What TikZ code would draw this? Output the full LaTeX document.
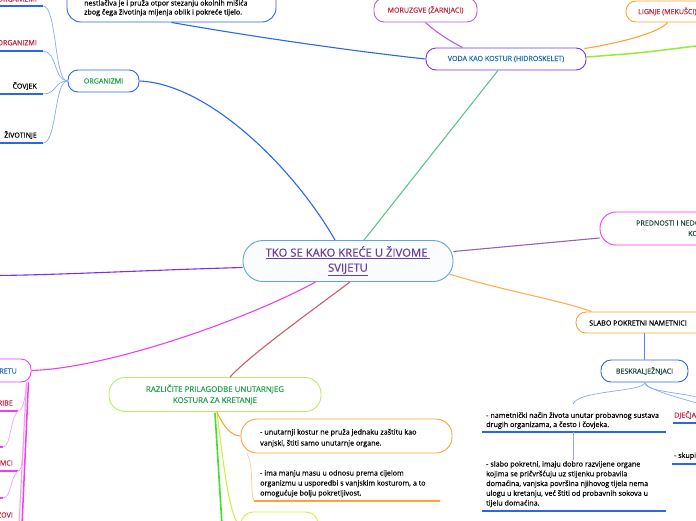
\documentclass[tikz,border=0pt]{standalone}
\usepackage{fontspec}
\setmainfont{Open Sans}[FakeBold=0.4]
\usetikzlibrary{calc}
\definecolor{crim}{HTML}{C8203C}
\definecolor{grn}{HTML}{1FA54E}
\definecolor{dgrn}{HTML}{1E4B3C}
\definecolor{tblue}{HTML}{1F6FB2}
\definecolor{cpurp}{HTML}{6A3C9E}
\definecolor{bblue}{HTML}{2A66EA}
\definecolor{lblue}{HTML}{86AAF6}
\definecolor{cbord}{HTML}{5CA6DC}
\definecolor{orng}{HTML}{FFA234}
\definecolor{lorng}{HTML}{FFC98A}
\definecolor{mag}{HTML}{F23CF2}
\definecolor{lmag}{HTML}{F7A0F7}
\definecolor{vio}{HTML}{7B2FF0}
\definecolor{lvio}{HTML}{B85CF2}
\definecolor{lgrn}{HTML}{B4F064}
\definecolor{bgrn}{HTML}{44E024}
\definecolor{ygrn}{HTML}{D4F03C}
\definecolor{tealc}{HTML}{5CC48C}
\definecolor{redl}{HTML}{D45868}
\definecolor{plum}{HTML}{9462B2}
\definecolor{vgrn}{HTML}{94EC34}
\tikzset{
  box/.style={draw, rounded corners=10pt, fill=white, inner sep=0pt, line width=0.9pt},
  con/.style={line width=1.1pt},
  thincon/.style={line width=0.7pt},
  uline/.style={line width=1.4pt},
  capt/.style={font=\fontsize{7.1}{9}\selectfont, inner sep=0pt},
  small/.style={inner sep=0pt, align=left},
}
\begin{document}
\begin{tikzpicture}[x=1pt,y=-1pt]
\useasboundingbox (0,0) rectangle (696,520);
\clip (0,0) rectangle (696,520);

% ---------- boxes ----------
\node[box, draw=bblue, minimum width=209pt, minimum height=52pt, rounded corners=14pt] (topbox) at (171.5,-4) {};
\node[box, draw=lvio, minimum width=103pt, minimum height=24pt, capt, text=crim] (moruzgve) at (425.5,10) {MORUZGVE (ŽARNJACI)};
\node[box, draw=orng, minimum width=114pt, minimum height=21pt] (lignje) at (683,11.5) {};
\node[box, draw=vio, minimum width=160pt, minimum height=22pt, capt, text=tblue] (voda) at (506,59) {VODA KAO KOSTUR (HIDROSKELET)};
\node[box, draw=bblue, minimum width=71pt, minimum height=22pt, capt, text=grn] (organizmi) at (103.5,81) {ORGANIZMI};
\node[box, draw=cbord, fill=cbord!3, minimum width=210pt, minimum height=41pt, rounded corners=20pt,
      font=\fontsize{11.3}{15}\selectfont, text=cpurp, align=center] (central) at (348,261)
      {\underline{TKO SE KAKO KREĆE U ŽIVOME }\\\underline{SVIJETU}};
\node[box, draw=mag, minimum width=202pt, minimum height=33pt, rounded corners=16pt] (prednosti) at (701,228.5) {};
\node[box, draw=orng, minimum width=144pt, minimum height=21pt] (slabo) at (648,322.5) {};
\node[box, draw=bblue, minimum width=87pt, minimum height=22pt, capt, text=dgrn] (beskr) at (644.5,371) {BESKRALJEŽNJACI};
\node[box, draw=mag, minimum width=91pt, minimum height=23pt] (retu) at (-14.5,370.5) {};
\node[box, draw=lgrn, minimum width=212pt, minimum height=34pt, rounded corners=16pt,
      font=\fontsize{7.9}{11}\selectfont, text=grn, align=center] (razlicite) at (215,394.5)
      {RAZLIČITE PRILAGODBE UNUTARNJEG\\KOSTURA ZA KRETANJE};
\node[box, draw=orng, minimum width=211pt, minimum height=34pt, rounded corners=16pt] (orangebox) at (346.5,436) {};
\node[box, draw=ygrn, minimum width=77pt, minimum height=28pt, rounded corners=12pt] (yellowbox) at (279.5,526) {};

% ---------- texts ----------
\node[small, anchor=base west, font=\fontsize{7.1}{9}\selectfont] (toptxt) at (84,14.5)
  {nestlačiva je i pruža otpor stezanju okolnih mišića\\zbog čega životinja mijenja oblik i pokreće tijelo.};
\node[capt, anchor=west, text=crim] (lignjetxt) at (638,11.5) {LIGNJE (MEKUŠCI)};
\node[capt, anchor=west, text=dgrn] (pr1) at (636,223) {PREDNOSTI I NEDOSTACI};
\node[capt, anchor=west, text=dgrn] (pr2) at (688,233.5) {KOSTURA};
\node[capt, anchor=west] (slabotxt) at (589,323) {SLABO POKRETNI NAMETNICI};
\node[capt, anchor=east, text=tblue] (retutxt) at (17,371) {U POKRETU};
\node[capt, anchor=east, text=crim] (o1) at (37,-1) {JEDNOSTANIČNI ORGANIZMI};
\node[capt, anchor=east, text=crim] (o2) at (37,42) {VIŠESTANIČNI ORGANIZMI};
\node[capt, anchor=east] (o3) at (37,86) {ČOVJEK};
\node[capt, anchor=east] (o4) at (37,135) {ŽIVOTINJE};
\node[capt, anchor=east, text=crim] (k1) at (13,403) {RIBE};
\node[capt, anchor=east, text=crim] (k2) at (13,463) {VODOZEMCI};
\node[capt, anchor=east, text=crim] (k3) at (13,515) {GMAZOVI};
\node[capt, anchor=west, text=crim] (djec) at (674,415) {DJEČJA};
\node[small, anchor=west, font=\fontsize{7.1}{9}\selectfont] (skupi) at (674,456) {- skupi};
\node[small, anchor=base west, font=\fontsize{7.2}{11}\selectfont] (ob1) at (260,445.5)
  {- unutarnji kostur ne pruža jednaku zaštitu kao\\vanjski, štiti samo unutarnje organe.};
\node[small, anchor=base west, font=\fontsize{7.2}{10}\selectfont] (ob2) at (260,495.5)
  {- ima manju masu u odnosu prema cijelom\\organizmu u usporedbi s vanjskim kosturom, a to\\omogućuje bolju pokretljivost.};
\node[small, anchor=base west, font=\fontsize{7.2}{9.2}\selectfont] (nm1) at (486,427)
  {- nametnički način života unutar probavnog sustava\\drugih organizama, a često i čovjeka.};
\node[small, anchor=base west, font=\fontsize{7.2}{9.75}\selectfont] (nm2) at (486,505.5)
  {- slabo pokretni, imaju dobro razvijene organe\\kojima se pričvršćuju uz stijenku probavila\\domaćina, vanjska površina njihovog tijela nema\\ulogu u kretanju, već štiti od probavnih sokova u\\tijelu domaćina.};

% ---------- free ends ----------
\coordinate (u1) at (43,6);
\coordinate (u2) at (43,51);
\coordinate (u3) at (43,94);
\coordinate (u4) at (43,143);
\coordinate (vg) at (700,45.5);
\coordinate (vleft) at (-5,275.5);
\coordinate (nmt) at (573,432);
\coordinate (nmb) at (573,460);
\coordinate (nmtop) at (573,404);
\coordinate (br1) at (700,398);
\coordinate (br2) at (700,404);
\coordinate (gdown) at (222,525);
\coordinate (oru) at (254,501);
\coordinate (mdown) at (22,525);
\coordinate (mdown2) at (19,525);
\coordinate (rb) at (18,411);
\coordinate (rb2) at (3,447);
\coordinate (vz) at (18,471);
\coordinate (vz2) at (3,498);

% ---------- underlines ----------
\foreach \c in {u1,u2,u3,u4} \draw[uline, bblue] (\c) -- ++(-50,0);
\draw[uline, mag] (rb) -- ++(-25,0);
\draw[uline, mag] (rb2) -- ++(-10,0);
\draw[uline, mag] (vz) -- ++(-25,0);
\draw[uline, mag] (vz2) -- ++(-10,0);
\draw[uline, orng] (oru) -- (440,501);
\draw[uline, bblue] (482,432) -- (666,432);
\draw[uline, bblue] (482,511) -- (666,511);
\draw[uline, bblue] (673,423) -- (700,423);
\draw[uline, bblue] (672,464) -- (700,464);

% ---------- connectors ----------
\draw[con, bblue] (topbox.south) .. controls (260,38) and (360,52) .. (voda.west);
\draw[con, lvio] (moruzgve.south) .. controls (438,34) and (452,42) .. ($(voda.north west)+(37,0)$);
\draw[con, orng] ($(voda.north east)+(-2,1)$) .. controls (625,42) and (660,32) .. ($(lignje.south west)+(42,0)$);
\draw[con, vgrn, line width=1.5pt] ($(voda.east)+(0,-2)$) .. controls (640,53) .. (vg);
\draw[con, tealc] ($(central.north)+(16,0)$) -- ($(voda.south)+(-8,0)$);
\draw[con, bblue] (organizmi.east) .. controls (210,84) and (295,170) .. ($(central.north)+(-13,0)$);
\draw[thincon, lblue] (organizmi.west) .. controls (54,81) and (57,6) .. (u1);
\draw[thincon, lblue] (organizmi.west) .. controls (54,81) and (57,51) .. (u2);
\draw[thincon, lblue] (organizmi.west) .. controls (54,81) and (57,94) .. (u3);
\draw[thincon, lblue] (organizmi.west) .. controls (54,81) and (57,143) .. (u4);
\draw[con, vio] ($(central.west)+(0,6.5)$) .. controls (150,270) and (60,275) .. (vleft);
\draw[con, mag] ($(central.south west)+(73,0)$) .. controls (250,318) and (110,368) .. (retu.east);
\draw[con, redl] ($(central.south)+(2,0)$) .. controls (310,312) and (250,355) .. ($(razlicite.north)+(15,0)$);
\draw[con, plum] ($(central.east)+(0,-9.5)$) -- ($(prednosti.west)+(0,9.5)$);
\draw[con, orng!85] ($(central.east)+(-4,13)$) .. controls (500,290) and (560,300) .. ($(slabo.north west)+(16,0)$);
\draw[con, bblue!80, line width=1.6pt] (beskr.north |- slabo.south) -- (beskr.north);
\draw[thincon, lblue] (beskr.south) .. controls (645,392) and (578,390) .. (nmtop);
\draw[thincon, lblue] (beskr.south) .. controls (646,392) and (680,392) .. (br1);
\draw[thincon, lblue] (beskr.south) .. controls (648,390) and (680,398) .. (br2);
\draw[thincon, lblue] (nmt) -- (nmb);
\draw[con, bgrn, line width=1.6pt] ($(razlicite.south)+(0,1)$) -- (gdown);
\draw[con, ygrn] ($(razlicite.south)+(2,0)$) .. controls (224,470) and (230,520) .. (yellowbox.west);
\draw[con, orng] ($(razlicite.south)+(2,0)$) .. controls (224,428) and (232,436) .. (orangebox.west);
\draw[thincon, lorng] ($(orangebox.south west)+(6,0)$) .. controls (254,462) and (250,495) .. (oru);
\draw[con, lmag, line width=1.2pt] ($(retu.south east)+(-5,0)$) -- (mdown2);
\draw[con, mag, line width=1.5pt] ($(retu.south east)+(-3,0)$) -- (mdown);
\draw[thincon, lmag] ($(retu.south east)+(-5,2)$) .. controls (25,402) and (22,411) .. (rb);
\draw[thincon, lmag] (rb) .. controls (10,418) and (11,447) .. (rb2);
\draw[thincon, lmag] (24,440) .. controls (22,460) and (22,471) .. (vz);
\draw[thincon, lmag] (vz) .. controls (10,478) and (11,498) .. (vz2);
\end{tikzpicture}
\end{document}
